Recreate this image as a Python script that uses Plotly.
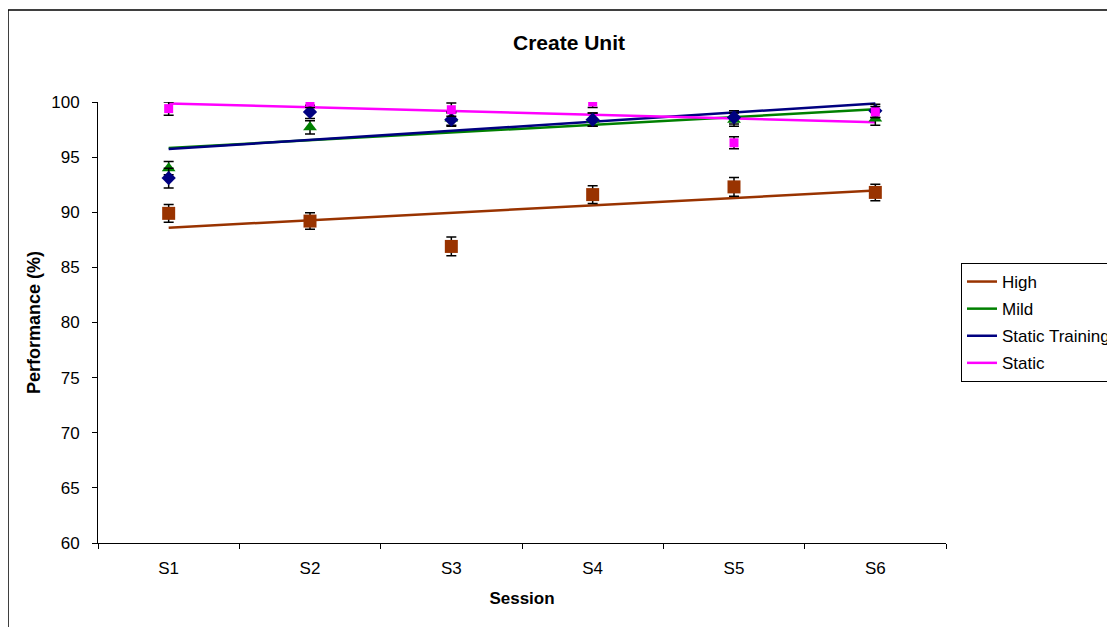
import numpy as np
import plotly.graph_objects as go

sessions = ["S1", "S2", "S3", "S4", "S5", "S6"]
high = [89.9, 89.2, 86.9, 91.6, 92.3, 91.8]
high_err = [0.8, 0.75, 0.85, 0.8, 0.85, 0.75]
mild = [94.0, 97.7, 98.5, 98.4, 98.4, 98.5]
mild_err = [0.6, 0.6, 0.6, 0.6, 0.6, 0.6]
static_training = [93.1, 99.1, 98.4, 98.4, 98.6, 99.2]
static_training_err = [0.9, 0.6, 0.6, 0.6, 0.6, 0.6]
static = [99.4, 100.0, 99.3, 100.0, 96.3, 99.1]
static_err = [0.6, 0.5, 0.6, 0.5, 0.55, 0.5]

series = [
    ("High", high, high_err, "#993300", "square", 13),
    ("Mild", mild, mild_err, "#008000", "triangle-up", 12),
    ("Static Training", static_training, static_training_err, "#000080", "diamond", 11),
    ("Static", static, static_err, "#FF00FF", "square", 9),
]

xs = np.arange(len(sessions))
fig = go.Figure()

# trend lines (linear fit, as Excel trendlines)
for name, vals, err, color, sym, size in series:
    slope, icpt = np.polyfit(xs + 1, vals, 1)
    fig.add_trace(go.Scatter(
        x=xs, y=slope * (xs + 1) + icpt, mode="lines", name=name,
        line=dict(color=color, width=2.5), legendgroup=name,
        showlegend=True, hoverinfo="skip"))

for name, vals, err, color, sym, size in series:
    fig.add_trace(go.Scatter(
        x=xs, y=vals, mode="markers", name=name, showlegend=False,
        marker=dict(symbol=sym, size=size, color=color),
        error_y=dict(type="data", array=err, visible=True, color="black",
                     thickness=1.5, width=5)))

OFF = 8  # page body margin
W, H = 1115 - OFF, 627 - OFF
L, R, T, B = 98 - OFF, 946 - OFF, 102 - OFF, 543 - OFF
pw, ph = R - L, B - T

def px(x):
    return (x - OFF - L) / pw

def py(y):
    return (B - (y - OFF)) / ph

fig.add_shape(type="rect", xref="paper", yref="paper",
              x0=px(8), x1=px(1140), y0=py(650), y1=py(10),
              line=dict(color="black", width=1.5), fillcolor="rgba(0,0,0,0)")

FONT = "Liberation Sans, Arial, sans-serif"
fig.update_layout(
    width=W, height=H,
    margin=dict(l=L, r=W - R, t=T, b=H - B, pad=0, autoexpand=False),
    paper_bgcolor="white", plot_bgcolor="white",
    font=dict(family=FONT, size=17, color="black"),
    title=dict(text="<b>Create Unit</b>", x=(569 - OFF) / W, xanchor="center",
               y=1 - (43 - OFF) / H, yanchor="middle", font=dict(size=21)),
    xaxis=dict(range=[-0.5, 5.5], tickmode="array", tickvals=list(xs),
               ticktext=sessions, ticks="", showgrid=False, zeroline=False,
               showline=True, linecolor="black", linewidth=1,
               tickfont=dict(size=17), ticklabelstandoff=10,
               minor=dict(tickmode="array", tickvals=[i - 0.5 for i in range(7)],
                          ticks="outside", ticklen=5, tickcolor="black", showgrid=False),
               title=dict(text="<b>Session</b>", font=dict(size=17), standoff=14)),
    yaxis=dict(range=[60, 100], tickmode="array", tickvals=list(range(60, 101, 5)),
               ticks="outside", ticklen=5, tickcolor="black", showgrid=False,
               zeroline=False, showline=True, linecolor="black", linewidth=1,
               tickfont=dict(size=17), ticklabelstandoff=9,
               title=dict(text="<b>Performance (%)</b>", font=dict(size=18), standoff=5)),
    legend=dict(xref="container", yref="container",
                x=(961 - OFF) / W, y=1 - (263 - OFF) / H, xanchor="left", yanchor="top",
                bordercolor="black", borderwidth=1, bgcolor="white",
                font=dict(size=17), tracegroupgap=2, itemwidth=30),
    showlegend=True,
)

fig.write_html("out.html")
